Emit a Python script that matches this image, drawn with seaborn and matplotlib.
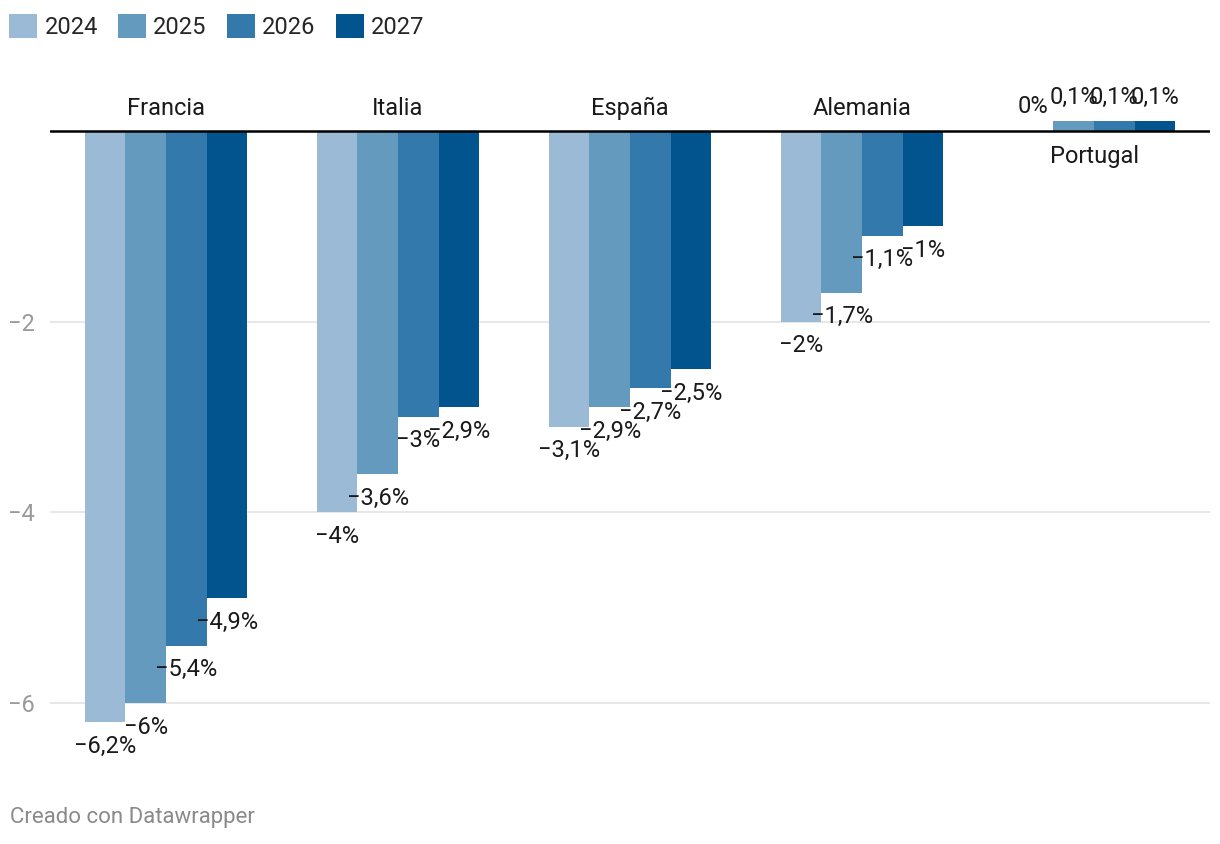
import numpy as np
import pandas as pd
import seaborn as sns
from matplotlib import pyplot as plt
from matplotlib.patches import Patch

# datos
paises = ["Francia", "Italia", "España", "Alemania", "Portugal"]
anios = ["2024", "2025", "2026", "2027"]
v2024 = [-6.2, -4.0, -3.1, -2.0, 0.0]
v2025 = [-6.0, -3.6, -2.9, -1.7, 0.1]
v2026 = [-5.4, -3.0, -2.7, -1.1, 0.1]
v2027 = [-4.9, -2.9, -2.5, -1.0, 0.1]
colores = ["#9abad6", "#659abf", "#3479ab", "#02548f"]

df = pd.DataFrame({"pais": paises, "2024": v2024, "2025": v2025, "2026": v2026, "2027": v2027})
df = df.melt(id_vars="pais", var_name="anio", value_name="valor")

sns.set_style("white")
plt.rcParams["font.family"] = ["Roboto", "DejaVu Sans"]
FS = 17

fig = plt.figure(figsize=(12.2, 8.44), dpi=100)
ax = fig.add_axes([50 / 1220, 1 - 770 / 844, 1160 / 1220, 687 / 844])

sns.barplot(data=df, x="pais", y="valor", hue="anio", order=paises, hue_order=anios,
            palette=colores, width=0.7, saturation=1, ax=ax, legend=False,
            linewidth=0, edgecolor="none", zorder=3)

ax.set_xlim(-0.5, 4.5)
ax.set_ylim(-6.7, 0.5)
ax.set_yticks([-6, -4, -2])
ax.set_xticks([])
ax.set_xlabel("")
ax.set_ylabel("")
ax.tick_params(axis="y", length=0, pad=11, labelsize=FS, labelcolor="#9a9a9a")
for s in ax.spines.values():
    s.set_visible(False)
ax.grid(axis="y", color="#e3e3e3", linewidth=1.2, zorder=0)
ax.axhline(0, color="black", linewidth=1.8, zorder=4)

# etiquetas de valores
def fmt(v):
    s = ("%g" % round(v, 1)).replace(".", ",").replace("-", "\u2212")
    return s + "%"

for cont in ax.containers:
    ax.bar_label(cont, labels=[fmt(b.get_height()) for b in cont], padding=9,
                 fontsize=FS, color="#1a1a1a", zorder=5)

# etiquetas de países
valores = [v2024, v2025, v2026, v2027]
for i, p in enumerate(paises):
    pos = max(v[i] for v in valores) > 0
    if pos:
        ax.annotate(p, (i, 0), xytext=(0, -10), textcoords="offset points",
                    ha="center", va="top", fontsize=FS, color="#1a1a1a")
    else:
        ax.annotate(p, (i, 0), xytext=(0, 8), textcoords="offset points",
                    ha="center", va="bottom", fontsize=FS, color="#1a1a1a")

# leyenda
handles = [Patch(facecolor=c, edgecolor="none") for c in colores]
fig.legend(handles, anios, loc="upper left", bbox_to_anchor=(9 / 1220, 1 - 14 / 844), ncol=4,
           frameon=False, fontsize=FS, handlelength=1.2, handleheight=1.2,
           handletextpad=0.3, columnspacing=0.85, borderaxespad=0, borderpad=0)

fig.text(10 / 1220, 1 - 818 / 844, "Creado con Datawrapper", fontsize=16,
         color="#8a8a8a", va="center", ha="left")

plt.savefig("out.png", dpi=100)
